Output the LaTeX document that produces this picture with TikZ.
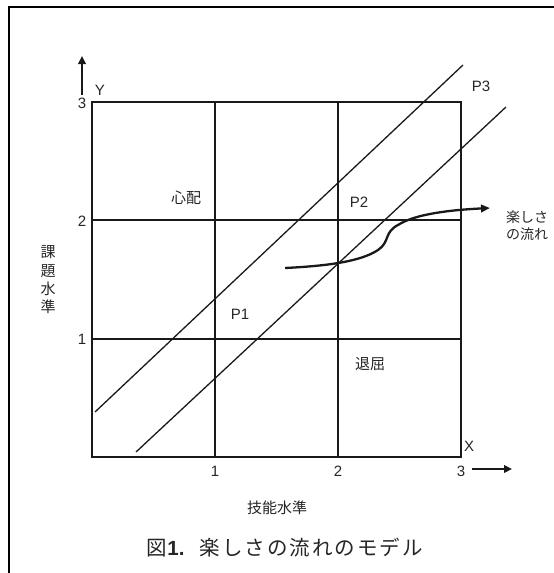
\documentclass[tikz,border=0pt]{standalone}
\usepackage{fontspec}
\setmainfont{Liberation Sans}
\newfontfamily\jp{Noto Sans CJK JP}
\newfontfamily\jpsp[LetterSpace=10]{Noto Sans CJK JP}
\usetikzlibrary{arrows.meta}
\begin{document}
\begin{tikzpicture}[x=1pt,y=-1pt,
  gridline/.style={line width=1.9pt, black!90},
  diag/.style={line width=1.3pt, black!90},
  lbl/.style={font=\fontsize{15}{17}\selectfont, inner sep=0pt, text=black!85},
  jlbl/.style={font=\fontsize{15}{18.3}\selectfont\jp, inner sep=0pt, text=black!85, align=center},
  axarrow/.style={line width=2.6pt, black!90, -{Triangle[length=8pt,width=7.5pt]}},
  flow/.style={line width=2.3pt, black!90, -{Triangle[length=9pt,width=7.5pt]}},
]
\useasboundingbox (0,0) rectangle (554,573);
% outer frame (partly outside the picture)
\draw[line width=2.6pt] (9,573) -- (9,7) -- (554,7);

% grid
\coordinate (g00) at (92,457);
\coordinate (g33) at (461,102);
\draw[gridline] (g00) rectangle (g33);
\coordinate (x1b) at (215,457); \coordinate (x1t) at (215,102);
\coordinate (x2b) at (338,457); \coordinate (x2t) at (338,102);
\coordinate (y1l) at (92,339);  \coordinate (y1r) at (461,339);
\coordinate (y2l) at (92,220);  \coordinate (y2r) at (461,220);
\draw[gridline] (x1b) -- (x1t);
\draw[gridline] (x2b) -- (x2t);
\draw[gridline] (y1l) -- (y1r);
\draw[gridline] (y2l) -- (y2r);

% diagonal bands
\coordinate (d1s) at (95,412);  \coordinate (d1e) at (463,65);
\coordinate (d2s) at (136,452); \coordinate (d2e) at (506,107);
\draw[diag] (d1s) -- (d1e);
\draw[diag] (d2s) -- (d2e);

% axis arrows
\coordinate (ya) at (82,95);  \coordinate (yb) at (82,56);
\coordinate (xa) at (472,469); \coordinate (xb) at (512,469);
\draw[axarrow] (ya) -- (yb);
\draw[axarrow] (xa) -- (xb);

% flow curve
\coordinate (fs) at (285,268);
\coordinate (fm1) at (378,250);
\coordinate (fm2) at (398,225);
\coordinate (fe) at (490,208);
\draw[flow] (fs) .. controls (325,266) and (360,262) .. (fm1)
  .. controls (390,242) and (384,232) .. (fm2)
  .. controls (415,214) and (450,210) .. (fe);

% axis labels
\node[lbl] (ly) at (100,90) {Y};
\node[lbl] (ly3) at (82,103) {3};
\node[lbl] (ly2) at (82,221) {2};
\node[lbl] (ly1) at (82,339) {1};
\node[lbl] (lx1) at (215,471) {1};
\node[lbl] (lx2) at (338,471) {2};
\node[lbl] (lx3) at (461,471) {3};
\node[lbl] (lxx) at (469,446) {X};

\node[jlbl] (skill) at (277,508) {技能水準};
\node[jlbl] (chal) at (48,280) {課\\題\\水\\準};

% region labels
\node[jlbl] (worry) at (186,198) {心配};
\node[jlbl] (bored) at (370,364) {退屈};
\node[lbl] (p1) at (240,314) {P1};
\node[lbl] (p2) at (359,202) {P2};
\node[lbl] (p3) at (481,86) {P3};
\node[jlbl, font=\fontsize{14}{16.7}\selectfont\jp, align=left, anchor=west] (flowlbl) at (506,226) {楽しさ\\の流れ};

% caption
\node[inner sep=0pt, text=black!85, font=\fontsize{20.5}{24}\selectfont] (cap) at (285,548)
  {{\jp 図}{\bfseries 1.}\hspace{15pt}{\jpsp 楽しさの流れのモデル}};
\end{tikzpicture}
\end{document}
